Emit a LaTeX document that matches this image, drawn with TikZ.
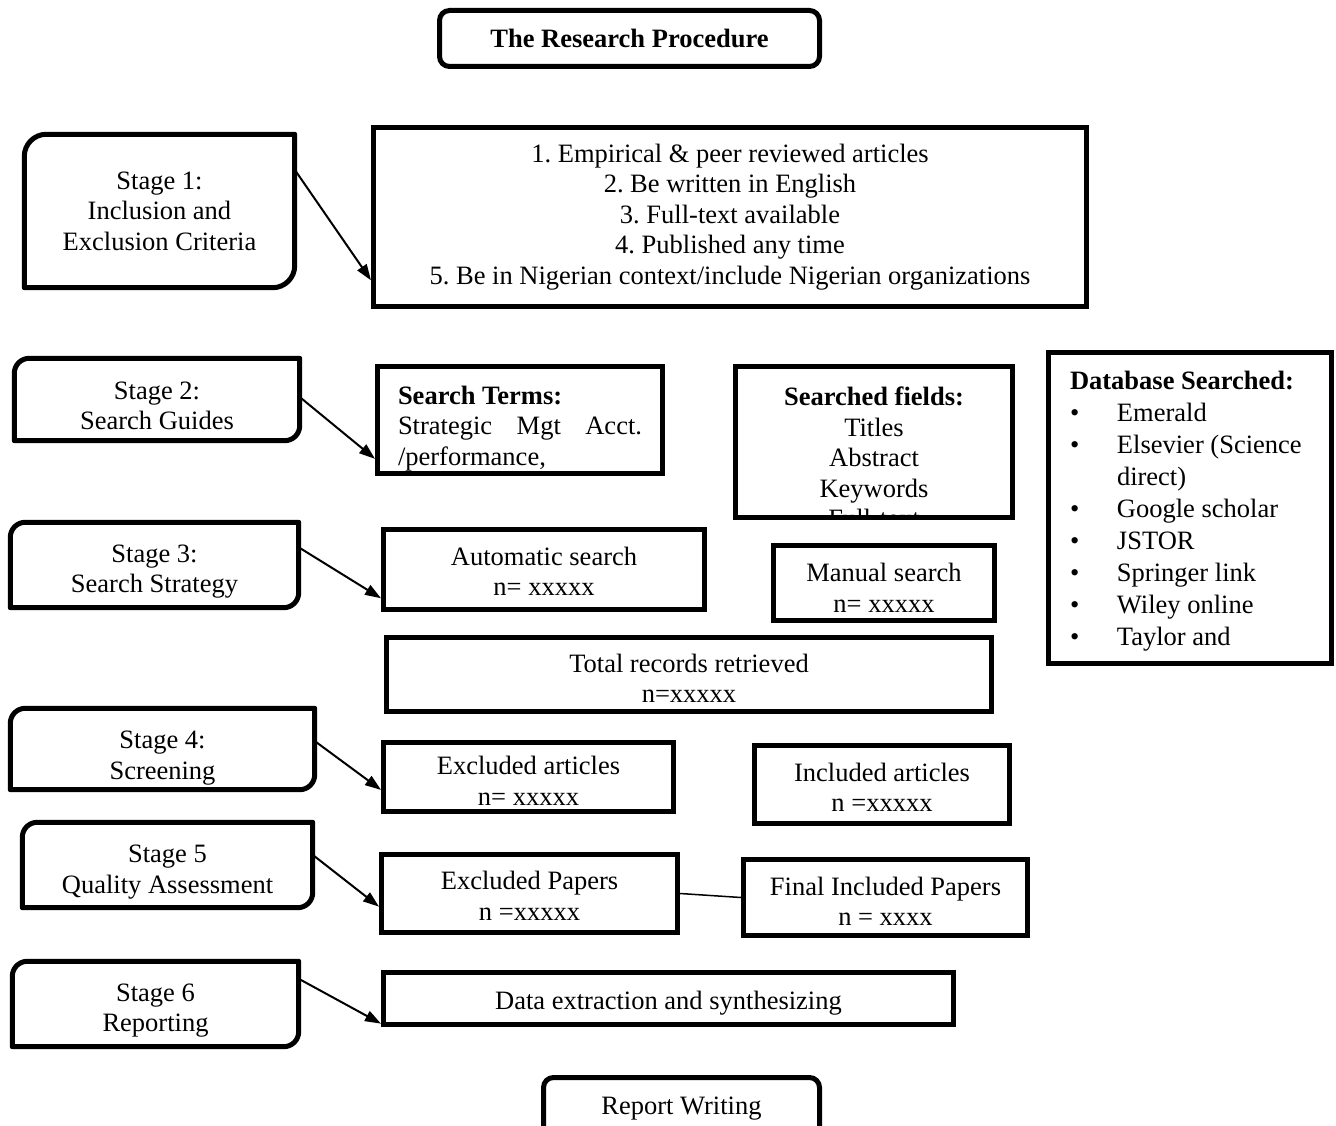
\documentclass[tikz,border=0pt]{standalone}
\usepackage{fontspec}
\setmainfont{Liberation Serif}
\usetikzlibrary{arrows.meta,positioning}
\frenchspacing
\newcommand{\dbitem}[1]{\makebox[47pt][l]{\textbullet}#1}
\newcommand{\stageoutline}[2]{\draw[stageline] (#1.south west) -- ([yshift=-#2]#1.north west) arc[start angle=180,end angle=90,radius=#2] -- (#1.north east) -- ([yshift=#2]#1.south east) arc[start angle=0,end angle=-90,radius=#2] -- cycle;}

\begin{document}
\begin{tikzpicture}[x=1pt,y=1pt,
  txt/.style={font=\fontsize{26.5}{30.5}\selectfont,align=center,inner sep=0pt},
  box/.style={txt,draw,line width=5pt},
  stage/.style={txt,text height=61pt},
  stageline/.style={line width=5pt,line join=round},
  link/.style={line width=2pt,-{Triangle[length=16pt,width=11pt]}}]
  \useasboundingbox (0,0) rectangle (1336,-1126);
  \node[box,rounded corners=10pt,minimum width=380pt,minimum height=56pt] (title) at (629.5,-38.5) {\textbf{The Research Procedure}};
  % stages
  \node[txt,minimum width=270pt,minimum height=153pt] (st1) at (159.5,-211) {Stage 1:\\Inclusion and\\Exclusion Criteria};
  \node[stage,minimum width=285pt,minimum height=82pt] (st2) at (157,-399.5) {Stage 2:\\Search Guides};
  \node[stage,minimum width=288pt,minimum height=85pt] (st3) at (154.5,-565) {Stage 3:\\Search Strategy};
  \node[stage,text height=66pt,minimum width=304pt,minimum height=81pt] (st4) at (162.5,-749) {Stage 4:\\Screening};
  \node[stage,text height=62pt,minimum width=290pt,minimum height=85pt] (st5) at (167.5,-865) {Stage 5\\Quality Assessment};
  \node[stage,minimum width=286pt,minimum height=85pt] (st6) at (155.5,-1004) {Stage 6\\Reporting};
  \foreach \s/\r in {st1/22pt,st2/15pt,st3/15pt,st4/15pt,st5/15pt,st6/15pt} \stageoutline{\s}{\r};
  % boxes
  \node[box,minimum width=713pt,minimum height=179pt] (crit) at (730,-217) {1. Empirical \& peer reviewed articles\\2. Be written in English\\3. Full-text available\\4. Published any time\\5. Be in Nigerian context/include Nigerian organizations};
  \node[box,align=left,text height=96pt,minimum width=285pt,minimum height=107pt] (terms) at (520,-420) {\textbf{Search Terms:}\\\makebox[244pt][l]{Strategic\hfill Mgt\hfill Acct.}\\/performance,};
  \node[box,minimum width=277pt,minimum height=151pt] (fields) at (874,-442) {};
  \begin{scope}
    \clip ([shift={(2.5pt,2.5pt)}]fields.south west) rectangle ([shift={(-2.5pt,-2.5pt)}]fields.north east);
    \node[txt,anchor=north] (fieldtxt) at (874,-387) {\textbf{Searched fields:}\\Titles\\Abstract\\Keywords\\Full-text};
  \end{scope}
  \node[box,font=\fontsize{26.5}{32}\selectfont,align=left,text height=281pt,minimum width=283pt,minimum height=311pt] (db) at (1190,-508) {\makebox[240pt][l]{\textbf{Database Searched:}}\\\dbitem{Emerald}\\\dbitem{Elsevier (Science}\\\hspace*{47pt}direct)\\\dbitem{Google scholar}\\\dbitem{JSTOR}\\\dbitem{Springer link}\\\dbitem{Wiley online}\\\dbitem{Taylor and}};
  \node[box,text height=52pt,minimum width=321pt,minimum height=80pt] (auto) at (544,-569.5) {Automatic search\\n= xxxxx};
  \node[box,text height=58pt,minimum width=221pt,minimum height=75pt] (manual) at (884,-583) {Manual search\\n= xxxxx};
  \node[box,text height=56pt,minimum width=605pt,minimum height=74pt] (total) at (689,-674.5) {Total records retrieved\\n=xxxxx};
  \node[box,text height=56pt,minimum width=290pt,minimum height=69pt] (exca) at (528.5,-777) {Excluded articles\\n= xxxxx};
  \node[box,text height=54pt,minimum width=255pt,minimum height=78pt] (inca) at (882,-784.5) {Included articles\\n =xxxxx};
  \node[box,text height=53pt,minimum width=296pt,minimum height=78pt] (excp) at (529.5,-893.5) {Excluded Papers\\n =xxxxx};
  \node[box,text height=56pt,minimum width=284pt,minimum height=76pt] (fin) at (885.5,-897.5) {Final Included Papers\\n = xxxx};
  \node[box,text height=28.5pt,minimum width=570pt,minimum height=52pt] (data) at (668.5,-998.5) {Data extraction and synthesizing};
  \node[box,text height=15pt,rounded corners=10pt,minimum width=276pt,minimum height=65pt] (report) at (681.5,-1110) {Report Writing};
  % connectors
  \draw[link] (st1.17) -- (crit.190);
  \draw[link] (st2.1) -- (terms.195);
  \draw[link] (st3.7) -- (auto.190);
  \draw[link] (st4.3) -- (exca.185);
  \draw[link] (st5.4) -- (excp.185);
  \draw[link] (st6.10) -- (data.185);
  \draw[line width=1.5pt] (excp.east) -- (fin.west);
\end{tikzpicture}
\end{document}
